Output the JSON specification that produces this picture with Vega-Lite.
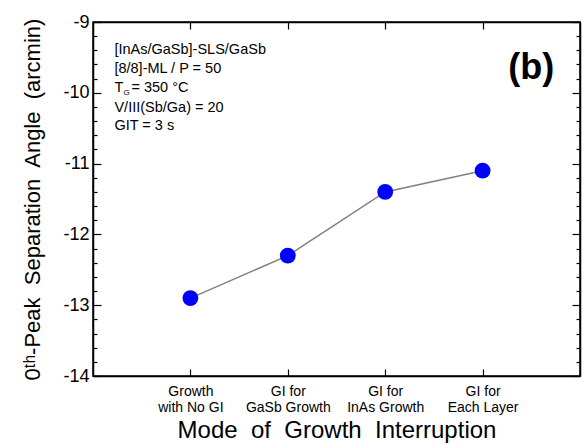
{
  "$schema": "https://vega.github.io/schema/vega-lite/v6.json",
  "width": 487,
  "height": 354,
  "autosize": {"type": "none"},
  "padding": {"left": 93, "top": 22, "right": 4, "bottom": 68},
  "config": {
    "font": "Liberation Sans",
    "view": {"stroke": "black", "strokeWidth": 1.5},
    "axis": {
      "domainColor": "black", "domainWidth": 1.5, "tickColor": "black", "tickWidth": 1.2,
      "labelColor": "black", "titleColor": "black", "grid": false,
      "labelFont": "Liberation Sans", "titleFont": "Liberation Sans", "titleFontWeight": "normal"
    }
  },
  "datasets": {
    "series": [
      {"mode": "Growth|with No GI", "angle": -12.9},
      {"mode": "GI for|GaSb Growth", "angle": -12.3},
      {"mode": "GI for|InAs Growth", "angle": -11.4},
      {"mode": "GI for|Each Layer", "angle": -11.1}
    ],
    "notes": [
      {"line": "[InAs/GaSb]-SLS/GaSb", "ty": -9.40},
      {"line": "[8/8]-ML / P = 50", "ty": -9.66},
      {"line": "T", "ty": -9.93},
      {"line": "V/III(Sb/Ga) = 20", "ty": -10.21},
      {"line": "GIT = 3 s", "ty": -10.47}
    ]
  },
  "layer": [
    {
      "data": {"name": "series"},
      "mark": {"type": "line", "color": "#808080", "strokeWidth": 1.5},
      "encoding": {
        "x": {
          "field": "mode", "type": "nominal", "sort": null,
          "scale": {"type": "point", "padding": 1},
          "axis": {
            "orient": "bottom", "title": "Mode\u00a0 of\u00a0 Growth\u00a0 Interruption",
            "labelExpr": "split(datum.label, '|')", "labelAngle": 0, "labelFontSize": 14,
            "labelLineHeight": 16, "labelPadding": 15, "tickSize": -7,
            "titleFontSize": 24, "titlePadding": 4
          }
        },
        "y": {
          "field": "angle", "type": "quantitative",
          "scale": {"domain": [-14, -9], "nice": false, "zero": false},
          "axis": {
            "orient": "left",
            "values": [-14, -13.8, -13.6, -13.4, -13.2, -13, -12.8, -12.6, -12.4, -12.2, -12, -11.8, -11.6, -11.4, -11.2, -11, -10.8, -10.6, -10.4, -10.2, -10, -9.8, -9.6, -9.4, -9.2, -9],
            "labelExpr": "abs(datum.value - round(datum.value)) < 0.001 ? '-' + format(abs(datum.value), 'd') : ''",
            "tickSize": {"condition": {"test": "abs(datum.value - round(datum.value)) < 0.001", "value": -8}, "value": -4},
            "labelFontSize": 18, "labelPadding": 12,
            "title": "0\u1d57\u02b0-Peak\u00a0 Separation\u00a0 Angle\u00a0 (arcmin)",
            "titleFontSize": 22, "titlePadding": 18
          }
        }
      }
    },
    {
      "data": {"name": "series"},
      "mark": {"type": "point", "filled": true, "shape": "circle", "size": 250, "color": "#0000ff", "opacity": 1},
      "encoding": {
        "x": {
          "field": "mode", "type": "nominal", "sort": null,
          "scale": {"type": "point", "padding": 1},
          "axis": {"orient": "top", "labels": false, "title": null, "tickSize": -7}
        },
        "y": {
          "field": "angle", "type": "quantitative",
          "scale": {"domain": [-14, -9], "nice": false, "zero": false},
          "axis": {
            "orient": "right", "labels": false, "title": null,
            "values": [-14, -13.8, -13.6, -13.4, -13.2, -13, -12.8, -12.6, -12.4, -12.2, -12, -11.8, -11.6, -11.4, -11.2, -11, -10.8, -10.6, -10.4, -10.2, -10, -9.8, -9.6, -9.4, -9.2, -9],
            "tickSize": {"condition": {"test": "abs(datum.value - round(datum.value)) < 0.001", "value": -8}, "value": -4}
          }
        }
      }
    },
    {
      "data": {"name": "notes"},
      "mark": {"type": "text", "align": "left", "baseline": "middle", "fontSize": 14.5, "color": "black"},
      "encoding": {
        "x": {"datum": 0.22, "type": "quantitative", "scale": {"domain": [0, 5]}, "axis": null},
        "y": {"field": "ty", "type": "quantitative", "scale": {"domain": [-14, -9], "nice": false, "zero": false}, "axis": null},
        "text": {"field": "line"}
      }
    },
    {
      "data": {"values": [{"s": "G", "ty": -9.93}]},
      "mark": {"type": "text", "align": "left", "baseline": "middle", "fontSize": 8, "dx": 9, "dy": 5, "color": "black"},
      "encoding": {
        "x": {"datum": 0.22, "type": "quantitative", "scale": {"domain": [0, 5]}, "axis": null},
        "y": {"field": "ty", "type": "quantitative", "scale": {"domain": [-14, -9], "nice": false, "zero": false}, "axis": null},
        "text": {"field": "s"}
      }
    },
    {
      "data": {"values": [{"s": "= 350 \u00b0C", "ty": -9.93}]},
      "mark": {"type": "text", "align": "left", "baseline": "middle", "fontSize": 14.5, "dx": 17, "color": "black"},
      "encoding": {
        "x": {"datum": 0.22, "type": "quantitative", "scale": {"domain": [0, 5]}, "axis": null},
        "y": {"field": "ty", "type": "quantitative", "scale": {"domain": [-14, -9], "nice": false, "zero": false}, "axis": null},
        "text": {"field": "s"}
      }
    },
    {
      "data": {"values": [{"s": "(b)", "tx": 4.5, "ty": -9.65}]},
      "mark": {"type": "text", "align": "center", "baseline": "middle", "fontSize": 36, "fontWeight": "bold", "color": "black"},
      "encoding": {
        "x": {"field": "tx", "type": "quantitative", "scale": {"domain": [0, 5]}, "axis": null},
        "y": {"field": "ty", "type": "quantitative", "scale": {"domain": [-14, -9], "nice": false, "zero": false}, "axis": null},
        "text": {"field": "s"}
      }
    }
  ],
  "resolve": {"scale": {"x": "independent"}, "axis": {"x": "independent", "y": "independent"}}
}
